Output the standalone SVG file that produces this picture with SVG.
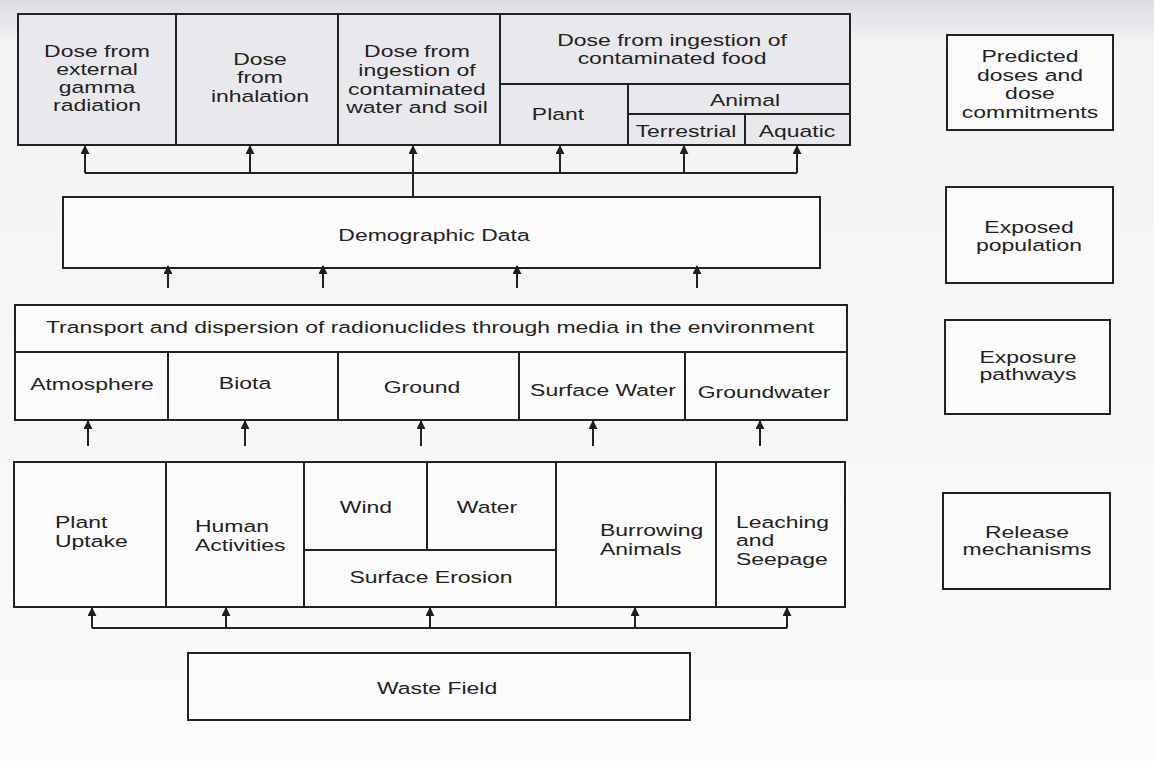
<svg xmlns="http://www.w3.org/2000/svg" width="1154" height="761" viewBox="0 0 1154 761">
<defs>
<linearGradient id="bg" x1="0" y1="0" x2="0" y2="1">
<stop offset="0" stop-color="#dcdde3"/>
<stop offset="0.06" stop-color="#f4f3f5"/>
<stop offset="1" stop-color="#fcfafa"/>
</linearGradient>
<marker id="ah" viewBox="0 0 10 10" refX="9" refY="5" markerWidth="9" markerHeight="9" markerUnits="userSpaceOnUse" orient="auto">
<path d="M0,0 L10,5 L0,10 z" fill="#1e1e1e"/>
</marker>
<style>
.b{fill:#fcfbfb;stroke:#222;stroke-width:2}
.g{fill:#e9e9ed;stroke:#222;stroke-width:2}
.t{font-family:"Liberation Sans",Arial,sans-serif;font-size:17px;fill:#222}
.c{text-anchor:middle}
.w{fill:none;stroke:#222;stroke-width:2}
.a{fill:none;stroke:#222;stroke-width:2;marker-end:url(#ah)}
</style>
</defs>
<rect x="0" y="0" width="1154" height="761" fill="url(#bg)"/>

<g id="dose-external"><rect class="g" x="18" y="14" width="158" height="131"/>
<text class="t c" transform="translate(97 0) scale(1.35 1)"><tspan x="0" y="57">Dose from</tspan><tspan x="0" y="75">external</tspan><tspan x="0" y="93">gamma</tspan><tspan x="0" y="111">radiation</tspan></text></g>
<g id="dose-inhalation"><rect class="g" x="176" y="14" width="162" height="131"/>
<text class="t c" transform="translate(260 0) scale(1.35 1)"><tspan x="0" y="65">Dose</tspan><tspan x="0" y="83">from</tspan><tspan x="0" y="102">inhalation</tspan></text></g>
<g id="dose-water-soil"><rect class="g" x="338" y="14" width="162" height="131"/>
<text class="t c" transform="translate(417 0) scale(1.35 1)"><tspan x="0" y="57">Dose from</tspan><tspan x="0" y="76">ingestion of</tspan><tspan x="0" y="95">contaminated</tspan><tspan x="0" y="113">water and soil</tspan></text></g>
<g id="dose-food"><rect class="g" x="500" y="14" width="350" height="70"/>
<text class="t c" transform="translate(672 0) scale(1.35 1)"><tspan x="0" y="46">Dose from ingestion of</tspan><tspan x="0" y="64">contaminated food</tspan></text></g>
<g id="plant"><rect class="g" x="500" y="84" width="128" height="61"/>
<text class="t c" transform="translate(558 0) scale(1.35 1)" y="120">Plant</text></g>
<g id="animal"><rect class="g" x="628" y="84" width="222" height="30"/>
<text class="t c" transform="translate(745 0) scale(1.35 1)" y="106">Animal</text></g>
<g id="terrestrial"><rect class="g" x="628" y="114" width="117" height="31"/>
<text class="t c" transform="translate(686 0) scale(1.35 1)" y="137">Terrestrial</text></g>
<g id="aquatic"><rect class="g" x="745" y="114" width="105" height="31"/>
<text class="t c" transform="translate(797 0) scale(1.35 1)" y="137">Aquatic</text></g>

<g id="demographic"><rect class="b" x="63" y="197" width="757" height="71"/>
<text class="t c" transform="translate(434 0) scale(1.35 1)" y="241">Demographic Data</text></g>

<g id="transport"><rect class="b" x="15" y="305" width="832" height="47"/>
<text class="t c" transform="translate(430 0) scale(1.35 1)" y="333">Transport and dispersion of radionuclides through media in the environment</text></g>
<g id="atmosphere"><rect class="b" x="15" y="352" width="153" height="68"/>
<text class="t c" transform="translate(92 0) scale(1.35 1)" y="390">Atmosphere</text></g>
<g id="biota"><rect class="b" x="168" y="352" width="170" height="68"/>
<text class="t c" transform="translate(245 0) scale(1.35 1)" y="389">Biota</text></g>
<g id="ground"><rect class="b" x="338" y="352" width="181" height="68"/>
<text class="t c" transform="translate(422 0) scale(1.35 1)" y="393">Ground</text></g>
<g id="surface-water"><rect class="b" x="519" y="352" width="166" height="68"/>
<text class="t c" transform="translate(603 0) scale(1.35 1)" y="396">Surface Water</text></g>
<g id="groundwater"><rect class="b" x="685" y="352" width="162" height="68"/>
<text class="t c" transform="translate(764 0) scale(1.35 1)" y="398">Groundwater</text></g>

<g id="plant-uptake"><rect class="b" x="14" y="462" width="152" height="145"/>
<text class="t" transform="translate(55 0) scale(1.35 1)"><tspan x="0" y="528">Plant</tspan><tspan x="0" y="547">Uptake</tspan></text></g>
<g id="human-activities"><rect class="b" x="166" y="462" width="138" height="145"/>
<text class="t" transform="translate(195 0) scale(1.35 1)"><tspan x="0" y="532">Human</tspan><tspan x="0" y="551">Activities</tspan></text></g>
<g id="wind"><rect class="b" x="304" y="462" width="123" height="88"/>
<text class="t c" transform="translate(366 0) scale(1.35 1)" y="513">Wind</text></g>
<g id="water"><rect class="b" x="427" y="462" width="129" height="88"/>
<text class="t c" transform="translate(487 0) scale(1.35 1)" y="513">Water</text></g>
<g id="surface-erosion"><rect class="b" x="304" y="550" width="252" height="57"/>
<text class="t c" transform="translate(431 0) scale(1.35 1)" y="583">Surface Erosion</text></g>
<g id="burrowing"><rect class="b" x="556" y="462" width="160" height="145"/>
<text class="t" transform="translate(600 0) scale(1.35 1)"><tspan x="0" y="536">Burrowing</tspan><tspan x="0" y="555">Animals</tspan></text></g>
<g id="leaching"><rect class="b" x="716" y="462" width="129" height="145"/>
<text class="t" transform="translate(736 0) scale(1.35 1)"><tspan x="0" y="528">Leaching</tspan><tspan x="0" y="546">and</tspan><tspan x="0" y="565">Seepage</tspan></text></g>

<g id="waste-field"><rect class="b" x="188" y="653" width="502" height="67"/>
<text class="t c" transform="translate(437 0) scale(1.35 1)" y="694">Waste Field</text></g>

<g id="legend-predicted"><rect class="b" x="947" y="35" width="166" height="95"/>
<text class="t c" transform="translate(1030 0) scale(1.35 1)"><tspan x="0" y="62">Predicted</tspan><tspan x="0" y="81">doses and</tspan><tspan x="0" y="99">dose</tspan><tspan x="0" y="118">commitments</tspan></text></g>
<g id="legend-exposed"><rect class="b" x="946" y="187" width="167" height="96"/>
<text class="t c" transform="translate(1029 0) scale(1.35 1)"><tspan x="0" y="233">Exposed</tspan><tspan x="0" y="251">population</tspan></text></g>
<g id="legend-pathways"><rect class="b" x="945" y="320" width="165" height="94"/>
<text class="t c" transform="translate(1028 0) scale(1.35 1)"><tspan x="0" y="363">Exposure</tspan><tspan x="0" y="380">pathways</tspan></text></g>
<g id="legend-release"><rect class="b" x="943" y="493" width="167" height="96"/>
<text class="t c" transform="translate(1027 0) scale(1.35 1)"><tspan x="0" y="538">Release</tspan><tspan x="0" y="555">mechanisms</tspan></text></g>

<g id="connectors">
<path class="w" d="M85,173 H797"/>
<path class="a" d="M85,173 V146"/>
<path class="a" d="M250,173 V146"/>
<path class="a" d="M413,197 V146"/>
<path class="a" d="M560,173 V146"/>
<path class="a" d="M684,173 V146"/>
<path class="a" d="M797,173 V146"/>
<path class="a" d="M168,288 V266"/>
<path class="a" d="M323,288 V266"/>
<path class="a" d="M517,288 V266"/>
<path class="a" d="M697,288 V266"/>
<path class="a" d="M88,446 V421"/>
<path class="a" d="M245,446 V421"/>
<path class="a" d="M421,446 V421"/>
<path class="a" d="M593,446 V421"/>
<path class="a" d="M760,446 V421"/>
<path class="w" d="M92,628 H787"/>
<path class="a" d="M92,628 V608"/>
<path class="a" d="M226,628 V608"/>
<path class="a" d="M430,628 V608"/>
<path class="a" d="M635,628 V608"/>
<path class="a" d="M787,628 V608"/>
</g>
</svg>
